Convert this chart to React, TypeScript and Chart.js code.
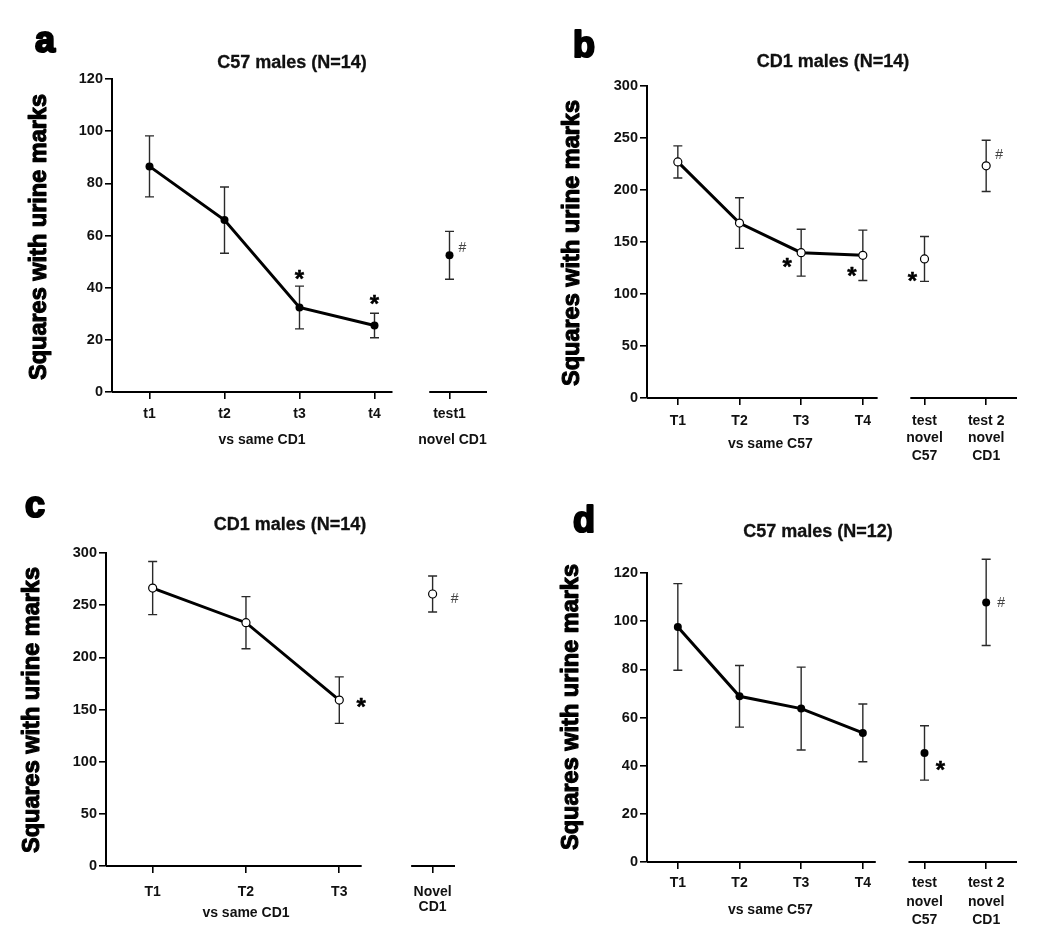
import React, { useEffect, useRef } from 'react';
import { Chart, registerables } from 'chart.js';

Chart.register(...registerables);

const FONT = '"Liberation Sans", Arial, Helvetica, sans-serif';

// ---------- Data ----------
// Panel a: C57 males (N=14)
const catsA: (string | string[])[] = ['t1', 't2', 't3', 't4', 'test1'];
const meanA = [86.5, 65.9, 32.4, 25.5, 52.4];
const semA = [11.7, 12.7, 8.2, 4.7, 9.2];
const yTicksA = [0, 20, 40, 60, 80, 100, 120];

// Panel b: CD1 males (N=14)
const catsB: (string | string[])[] = ['T1', 'T2', 'T3', 'T4', ['test', 'novel', 'C57'], ['test 2', 'novel', 'CD1']];
const meanB = [227, 168.2, 139.7, 137.2, 133.7, 223.2];
const semB = [15.4, 24.3, 22.5, 24.2, 21.6, 24.7];
const yTicksB = [0, 50, 100, 150, 200, 250, 300];

// Panel c: CD1 males (N=14)
const catsC: (string | string[])[] = ['T1', 'T2', 'T3', ['Novel', 'CD1']];
const meanC = [266.4, 233.2, 159, 260.7];
const semC = [25.5, 25, 22.3, 17.3];
const yTicksC = [0, 50, 100, 150, 200, 250, 300];

// Panel d: C57 males (N=12)
const catsD: (string | string[])[] = ['T1', 'T2', 'T3', 'T4', ['test', 'novel', 'C57'], ['test 2', 'novel', 'CD1']];
const meanD = [97.6, 68.8, 63.7, 53.6, 45.3, 107.8];
const semD = [18, 12.8, 17.2, 12, 11.3, 17.9];
const yTicksD = [0, 20, 40, 60, 80, 100, 120];

const Y_TITLE = 'Squares with urine marks';

type Mark = { i: number; sym: string; anchor: 'top' | 'point'; dx: number; dy: number };
type Group = { text: string; from: number; to: number; dx: number; dy: number };

type Cfg = {
  left: number; top: number; w: number; h: number;
  ca: { l: number; t: number; r: number; b: number };
  letter: string; letterPos: [number, number];
  title: string; titlePos: [number, number];
  yTitlePos: [number, number];
  cats: (string | string[])[]; mean: number[]; sem: number[]; nLine: number;
  yTicks: number[]; open: boolean;
  xMax: number; segments: [number, number][];
  xPad: number; xLineHeight: number;
  groups: Group[]; marks: Mark[];
};

const panels: Cfg[] = [
  {
    left: 0, top: 0, w: 520, h: 470,
    ca: { l: 112, t: 79, r: 487, b: 392 },
    letter: 'a', letterPos: [35, 52],
    title: 'C57 males (N=14)', titlePos: [292, 63],
    yTitlePos: [40, 237],
    cats: catsA, mean: meanA, sem: semA, nLine: 4, yTicks: yTicksA, open: false,
    xMax: 4.5, segments: [[-0.5, 3.24], [3.73, 4.5]],
    xPad: 6.3, xLineHeight: 1.2,
    groups: [
      { text: 'vs same CD1', from: 0, to: 3, dx: 0, dy: 48 },
      { text: 'novel CD1', from: 4, to: 4, dx: 3, dy: 48 },
    ],
    marks: [
      { i: 2, sym: '*', anchor: 'top', dx: 0, dy: -13 },
      { i: 3, sym: '*', anchor: 'top', dx: 0, dy: -15 },
      { i: 4, sym: '#', anchor: 'point', dx: 13, dy: -8 },
    ],
  },
  {
    left: 520, top: 0, w: 530, h: 470,
    ca: { l: 127, t: 86, r: 497, b: 398 },
    letter: 'b', letterPos: [53, 57],
    title: 'CD1 males (N=14)', titlePos: [313, 62],
    yTitlePos: [53, 243],
    cats: catsB, mean: meanB, sem: semB, nLine: 4, yTicks: yTicksB, open: true,
    xMax: 5.5, segments: [[-0.5, 3.24], [3.77, 5.5]],
    xPad: 7, xLineHeight: 1.25,
    groups: [{ text: 'vs same C57', from: 0, to: 3, dx: 0, dy: 46 }],
    marks: [
      { i: 2, sym: '*', anchor: 'point', dx: -14, dy: 9 },
      { i: 3, sym: '*', anchor: 'point', dx: -11, dy: 15 },
      { i: 4, sym: '*', anchor: 'point', dx: -12, dy: 17 },
      { i: 5, sym: '#', anchor: 'point', dx: 13, dy: -12 },
    ],
  },
  {
    left: 0, top: 470, w: 520, h: 468,
    ca: { l: 106, t: 83, r: 455, b: 396 },
    letter: 'c', letterPos: [25, 47],
    title: 'CD1 males (N=14)', titlePos: [290, 55],
    yTitlePos: [33, 240],
    cats: catsC, mean: meanC, sem: semC, nLine: 3, yTicks: yTicksC, open: true,
    xMax: 3.24, segments: [[-0.5, 2.24], [2.77, 3.24]],
    xPad: 12, xLineHeight: 1.07,
    groups: [{ text: 'vs same CD1', from: 0, to: 2, dx: 0, dy: 47 }],
    marks: [
      { i: 2, sym: '*', anchor: 'point', dx: 22, dy: 1 },
      { i: 3, sym: '#', anchor: 'point', dx: 22, dy: 4 },
    ],
  },
  {
    left: 520, top: 470, w: 530, h: 468,
    ca: { l: 127, t: 103, r: 497, b: 392 },
    letter: 'd', letterPos: [53, 62],
    title: 'C57 males (N=12)', titlePos: [298, 62],
    yTitlePos: [52, 237],
    cats: catsD, mean: meanD, sem: semD, nLine: 4, yTicks: yTicksD, open: false,
    xMax: 5.5, segments: [[-0.5, 3.21], [3.74, 5.5]],
    xPad: 5.2, xLineHeight: 1.32,
    groups: [{ text: 'vs same C57', from: 0, to: 3, dx: 0, dy: 48.5 }],
    marks: [
      { i: 4, sym: '*', anchor: 'point', dx: 16, dy: 12 },
      { i: 5, sym: '#', anchor: 'point', dx: 15, dy: 0 },
    ],
  },
];

function boldText(ctx: CanvasRenderingContext2D, text: string, x: number, y: number, stroke: number) {
  ctx.fillText(text, x, y);
  if (stroke > 0) {
    ctx.lineWidth = stroke;
    ctx.lineJoin = 'round';
    ctx.strokeStyle = ctx.fillStyle as string;
    ctx.strokeText(text, x, y);
  }
}

function Panel({ cfg }: { cfg: Cfg }) {
  const ref = useRef<HTMLCanvasElement>(null);
  useEffect(() => {
    if (!ref.current) return;
    const { ca, w, h } = cfg;
    const xH = h - ca.b - 2;
    const lineData = cfg.mean.slice(0, cfg.nLine).map((v, i) => ({ x: i, y: v }));
    const testData = cfg.mean.slice(cfg.nLine).map((v, k) => ({ x: cfg.nLine + k, y: v }));
    const pt = cfg.open
      ? { pointBackgroundColor: '#fff', pointBorderColor: '#000', pointBorderWidth: 1.2 }
      : { pointBackgroundColor: '#000', pointBorderColor: '#000', pointBorderWidth: 0 };

    const deco = {
      id: 'deco',
      beforeDatasetsDraw(chart: any) {
        const ctx = chart.ctx;
        const xs = chart.scales.x;
        const ys = chart.scales.y;
        const a = chart.chartArea;
        ctx.save();
        ctx.strokeStyle = '#000';
        ctx.lineWidth = 2;
        cfg.segments.forEach(([s, e]) => {
          ctx.beginPath();
          ctx.moveTo(xs.getPixelForValue(s), a.bottom);
          ctx.lineTo(xs.getPixelForValue(e), a.bottom);
          ctx.stroke();
        });
        ctx.strokeStyle = '#2a2a2a';
        ctx.lineWidth = 1.4;
        cfg.mean.forEach((m, i) => {
          const x = xs.getPixelForValue(i);
          const y1 = ys.getPixelForValue(m + cfg.sem[i]);
          const y2 = ys.getPixelForValue(m - cfg.sem[i]);
          ctx.beginPath();
          ctx.moveTo(x, y1); ctx.lineTo(x, y2);
          ctx.moveTo(x - 4.5, y1); ctx.lineTo(x + 4.5, y1);
          ctx.moveTo(x - 4.5, y2); ctx.lineTo(x + 4.5, y2);
          ctx.stroke();
        });
        ctx.restore();
      },
      afterDraw(chart: any) {
        const ctx = chart.ctx;
        const xs = chart.scales.x;
        const ys = chart.scales.y;
        const a = chart.chartArea;
        ctx.save();
        ctx.fillStyle = '#000';
        // panel letter
        ctx.font = `bold 36px ${FONT}`;
        ctx.textAlign = 'left';
        ctx.textBaseline = 'alphabetic';
        boldText(ctx, cfg.letter, cfg.letterPos[0], cfg.letterPos[1], 2.2);
        // title
        ctx.fillStyle = '#111';
        ctx.font = `bold 18px ${FONT}`;
        ctx.textAlign = 'center';
        ctx.textBaseline = 'middle';
        boldText(ctx, cfg.title, cfg.titlePos[0], cfg.titlePos[1], 0.3);
        // y title
        ctx.save();
        ctx.fillStyle = '#000';
        ctx.translate(cfg.yTitlePos[0], cfg.yTitlePos[1]);
        ctx.rotate(-Math.PI / 2);
        ctx.font = `bold 23.5px ${FONT}`;
        boldText(ctx, Y_TITLE, 0, 0, 1.1);
        ctx.restore();
        // group labels
        ctx.font = `bold 14px ${FONT}`;
        ctx.fillStyle = '#111';
        cfg.groups.forEach((g) => {
          const x = (xs.getPixelForValue(g.from) + xs.getPixelForValue(g.to)) / 2 + g.dx;
          ctx.fillText(g.text, x, a.bottom + g.dy);
        });
        // significance marks
        ctx.textBaseline = 'alphabetic';
        cfg.marks.forEach((mk) => {
          const x = xs.getPixelForValue(mk.i) + mk.dx;
          const base = mk.anchor === 'top' ? cfg.mean[mk.i] + cfg.sem[mk.i] : cfg.mean[mk.i];
          const y = ys.getPixelForValue(base) + mk.dy;
          if (mk.sym === '*') {
            ctx.font = `bold 24px ${FONT}`;
            ctx.fillStyle = '#000';
            boldText(ctx, '*', x, y + 0.56 * 24, 0.5);
          } else {
            ctx.font = `14px ${FONT}`;
            ctx.fillStyle = '#444';
            ctx.fillText(mk.sym, x, y + 0.36 * 14);
          }
        });
        ctx.restore();
      },
    };

    const chart = new Chart(ref.current, {
      type: 'scatter',
      data: {
        datasets: [
          {
            data: lineData,
            showLine: true,
            borderColor: '#000',
            borderWidth: 3,
            pointRadius: 4,
            pointHoverRadius: 4,
            tension: 0,
            clip: false,
            ...pt,
          } as any,
          {
            data: testData,
            showLine: false,
            pointRadius: 4,
            pointHoverRadius: 4,
            clip: false,
            ...pt,
          } as any,
        ],
      },
      options: {
        responsive: false,
        animation: false,
        devicePixelRatio: 1,
        events: [],
        layout: { padding: { left: 0, top: ca.t, right: w - ca.r, bottom: h - ca.b - xH } },
        plugins: { legend: { display: false }, tooltip: { enabled: false }, title: { display: false } },
        scales: {
          x: {
            type: 'linear',
            min: -0.5,
            max: cfg.xMax,
            afterBuildTicks: (s: any) => {
              s.ticks = cfg.cats.map((_, i) => ({ value: i }));
            },
            afterFit: (s: any) => {
              s.height = xH;
            },
            border: { display: false },
            grid: { drawOnChartArea: false, drawTicks: true, tickLength: 7, color: '#000', lineWidth: 1.6 },
            ticks: {
              autoSkip: false,
              maxRotation: 0,
              minRotation: 0,
              padding: cfg.xPad,
              color: '#111',
              font: { family: FONT, size: 14, weight: 'bold', lineHeight: cfg.xLineHeight },
              callback: (v: any) => {
                const k = Math.round(Number(v));
                return cfg.cats[k] ?? '';
              },
            },
          },
          y: {
            type: 'linear',
            min: cfg.yTicks[0],
            max: cfg.yTicks[cfg.yTicks.length - 1],
            afterBuildTicks: (s: any) => {
              s.ticks = cfg.yTicks.map((v) => ({ value: v }));
            },
            afterFit: (s: any) => {
              s.width = ca.l;
            },
            border: { display: true, color: '#000', width: 2 },
            grid: { drawOnChartArea: false, drawTicks: true, tickLength: 7, color: '#000', lineWidth: 1.6 },
            ticks: {
              padding: 2,
              color: '#111',
              font: { family: FONT, size: 14.5, weight: 'bold' },
            },
          },
        },
      },
      plugins: [deco],
    } as any);
    return () => chart.destroy();
  }, [cfg]);

  return (
    <canvas
      ref={ref}
      width={cfg.w}
      height={cfg.h}
      style={{ position: 'absolute', left: cfg.left, top: cfg.top, width: cfg.w, height: cfg.h }}
    />
  );
}

export default function App() {
  return (
    <div style={{ position: 'absolute', left: 0, top: 0, width: 1050, height: 938, background: '#fff' }}>
      {panels.map((p) => (
        <Panel key={p.letter} cfg={p} />
      ))}
    </div>
  );
}
